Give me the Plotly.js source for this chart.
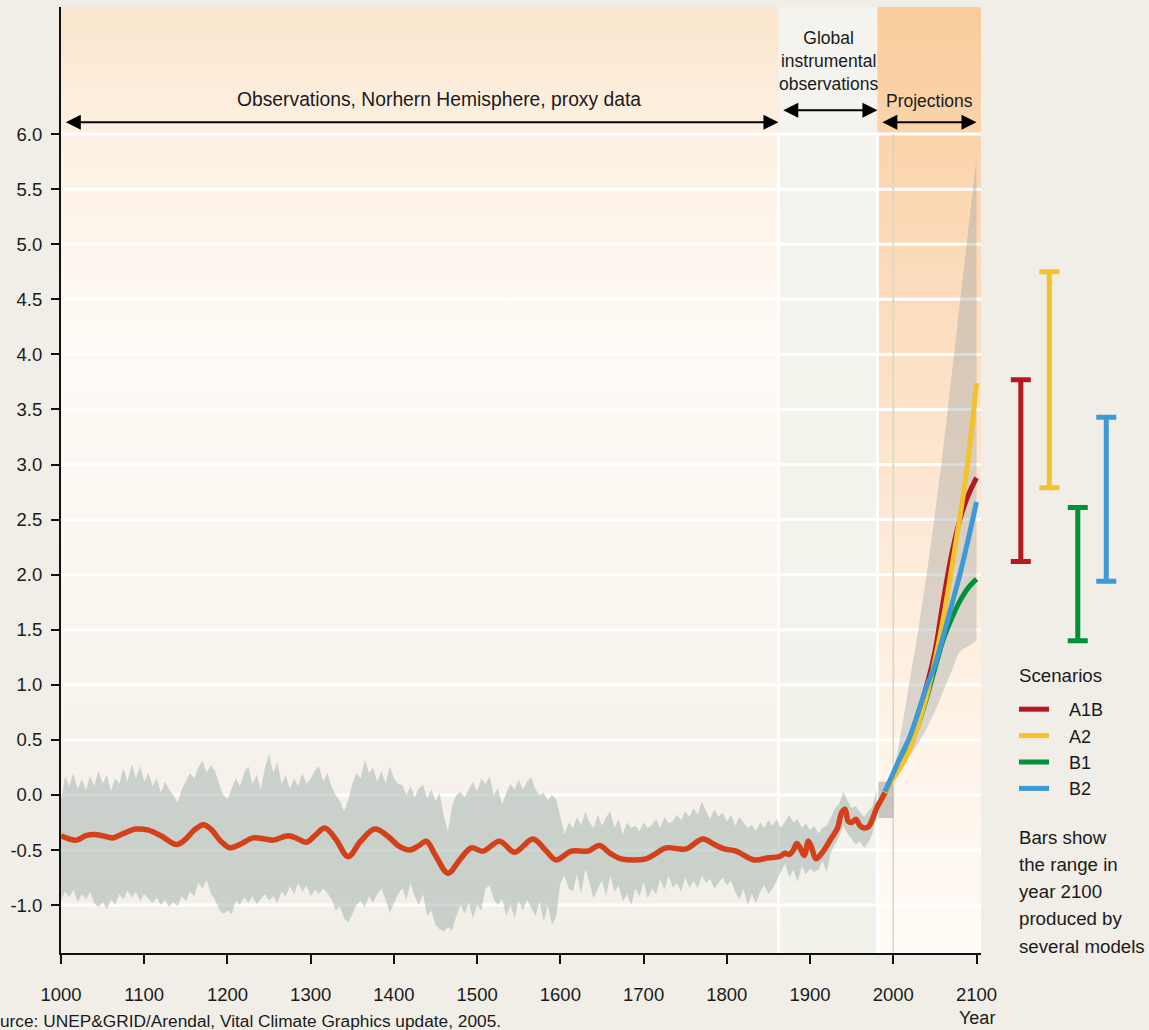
<!DOCTYPE html>
<html>
<head>
<meta charset="utf-8">
<script src="https://cdn.plot.ly/plotly-3.0.1.min.js"></script>
<style>
  html, body { margin: 0; padding: 0; background: #f0eee7; }
  #chart { width: 1149px; height: 1030px; }
</style>
</head>
<body>
<div id="chart"></div>
<script>
// ---------- DATA ----------
// Periods shown along the top
const periodNames = ['Observations, Norhern Hemisphere, proxy data', 'Global<br>instrumental<br>observations', 'Projections'];
const periodStart = [1000, 1862, 1981];
const periodEnd   = [1862, 1981, 2100];

// Proxy / instrumental uncertainty band (every 5 years, 1000-1980)
const bandStartYear = 1000;
const bandStep = 5;
const bandUpper = [
  -0.05, 0.17, 0.08, 0.2, 0.05, 0.15, 0.04, 0.17, 0.08, 0.22, 0.1, 0.18, 0.03, 0.15, 0.1, 0.24, 0.12, 0.28, 0.15, 0.26,
  0.12, 0.2, 0.08, 0.15, 0.02, 0.12, 0.05, 0.0, -0.07, 0.05, 0.12, 0.2, 0.15, 0.25, 0.31, 0.2, 0.27, 0.22, 0.1, 0.0,
  -0.04, 0.05, 0.15, 0.08, 0.2, 0.26, 0.1, 0.18, 0.05, 0.25, 0.37, 0.2, 0.3, 0.1, 0.18, 0.05, 0.15, 0.08, 0.2, 0.1,
  0.15, 0.22, 0.26, 0.12, 0.2, 0.08, 0.0, -0.05, -0.15, -0.05, 0.1, 0.2, 0.15, 0.32, 0.2, 0.25, 0.12, 0.22, 0.1, 0.26,
  0.15, 0.1, 0.09, 0.0, 0.08, -0.02, 0.06, 0.09, -0.03, 0.05, -0.06, 0.02, -0.2, -0.33, -0.1, 0.0, 0.03, -0.02, 0.05, 0.12,
  0.03, 0.15, 0.1, 0.17, 0.0, 0.06, -0.09, 0.02, 0.1, 0.05, 0.14, 0.05, 0.12, 0.16, 0.05, 0.0, 0.02, -0.05, 0.0, -0.04,
  -0.2, -0.36, -0.25, -0.3, -0.2, -0.28, -0.15, -0.25, -0.3, -0.18, -0.28, -0.2, -0.15, -0.3, -0.22, -0.36, -0.25, -0.3, -0.28, -0.33,
  -0.25, -0.3, -0.27, -0.22, -0.3, -0.2, -0.26, -0.24, -0.18, -0.23, -0.15, -0.2, -0.12, -0.18, -0.06, -0.15, -0.22, -0.13, -0.2, -0.16,
  -0.24, -0.18, -0.28, -0.2, -0.25, -0.3, -0.27, -0.33, -0.25, -0.3, -0.23, -0.28, -0.22, -0.3, -0.24, -0.18, -0.25, -0.22, -0.3, -0.26,
  -0.32, -0.28, -0.35, -0.3, -0.28, -0.2, -0.12, -0.08, 0.03, -0.05, -0.12, -0.1, -0.16, -0.2, -0.15, -0.1, 0.05
];
const bandLower = [
  -0.95, -0.88, -0.93, -0.86, -0.97, -0.9, -0.95, -0.88, -0.98, -1.02, -0.97, -1.04, -0.95, -1.0, -0.9, -0.95, -0.87, -0.93, -0.88, -0.96,
  -0.9, -0.94, -0.98, -0.93, -1.0, -0.95, -1.02, -0.97, -1.01, -0.92, -0.96, -0.88, -0.92, -0.8, -0.85, -0.77, -0.89, -0.95, -1.04, -1.08,
  -1.05, -1.08, -0.96, -1.0, -0.93, -0.98, -0.92, -0.99, -0.94, -0.9, -0.96, -0.92, -0.98, -0.88, -0.92, -0.83, -0.9, -0.8, -0.88, -0.82,
  -0.92, -0.86, -0.9, -0.85, -0.89, -0.95, -1.05, -1.01, -1.12, -1.16, -1.08, -1.0, -0.96, -1.02, -0.92, -0.98, -0.9, -0.85, -0.95, -1.07,
  -0.98, -0.9, -0.85, -0.95, -0.8, -0.92, -1.0, -0.9, -1.1, -1.05, -1.18, -1.22, -1.24, -1.2, -1.23, -1.1, -1.0, -1.08, -0.98, -1.12,
  -1.0, -1.05, -0.85, -0.82, -0.95, -1.0, -0.94, -1.1, -1.0, -1.12, -0.96, -1.05, -0.95, -1.02, -1.1, -0.97, -1.15, -1.0, -1.18, -1.1,
  -0.8, -0.73, -0.85, -0.88, -0.72, -0.9, -0.67, -0.8, -0.94, -0.85, -0.78, -0.92, -0.73, -0.88, -0.82, -0.97, -0.9, -1.0, -0.85, -0.92,
  -0.79, -0.94, -0.85, -0.9, -0.76, -0.86, -0.73, -0.84, -0.8, -0.88, -0.75, -0.84, -0.78, -0.85, -0.73, -0.8, -0.76, -0.85, -0.8, -0.75,
  -0.82, -0.78, -0.88, -0.95, -0.85, -1.0, -0.9, -0.98, -0.88, -0.82, -0.9, -0.85, -0.78, -0.7, -0.62, -0.75, -0.68, -0.79, -0.65, -0.72,
  -0.67, -0.7, -0.68, -0.6, -0.7, -0.52, -0.45, -0.38, -0.28, -0.35, -0.4, -0.45, -0.42, -0.48, -0.43, -0.35, -0.2
];

// Recent observational uncertainty box
const recentYears = [1982, 2000];
const recentHigh  = [0.12, 0.12];
const recentLow   = [-0.21, -0.21];

// Smoothed observed temperature (red line)
const obsYears = [1000,1010,1019,1030,1040,1050,1062,1075,1090,1105,1120,1139,1150,1160,1171,1180,1192,1203,1215,1231,1245,1255,1273,1285,1295,1305,1317,1330,1345,1360,1377,1392,1407,1419,1430,1439,1450,1465,1480,1493,1507,1527,1545,1567,1582,1595,1613,1633,1647,1660,1673,1703,1715,1727,1751,1771,1785,1797,1811,1833,1850,1863,1870,1875,1880,1884,1888,1893,1898,1902,1907,1915,1925,1933,1938,1942,1946,1950,1955,1960,1965,1970,1975,1980,1985,1990];
const obsTemp  = [-0.37,-0.40,-0.41,-0.37,-0.36,-0.37,-0.39,-0.35,-0.31,-0.32,-0.37,-0.45,-0.40,-0.32,-0.27,-0.31,-0.42,-0.48,-0.45,-0.39,-0.40,-0.41,-0.37,-0.40,-0.43,-0.37,-0.30,-0.40,-0.56,-0.42,-0.31,-0.37,-0.47,-0.50,-0.46,-0.42,-0.55,-0.71,-0.58,-0.48,-0.51,-0.42,-0.52,-0.40,-0.50,-0.59,-0.51,-0.51,-0.46,-0.53,-0.58,-0.58,-0.53,-0.48,-0.49,-0.40,-0.45,-0.49,-0.51,-0.59,-0.57,-0.56,-0.53,-0.54,-0.50,-0.44,-0.48,-0.55,-0.42,-0.48,-0.58,-0.52,-0.40,-0.30,-0.16,-0.13,-0.24,-0.25,-0.22,-0.28,-0.30,-0.29,-0.22,-0.12,-0.05,0.02];

// Projection envelope (all models, all scenarios)
const envYears = [1990, 2000, 2010, 2020, 2030, 2040, 2050, 2060, 2070, 2080, 2090, 2100];
const envHigh  = [0.02, 0.22, 0.6, 1.05, 1.5, 2.0, 2.55, 3.15, 3.8, 4.47, 5.12, 5.78];
const envLow   = [-0.02, 0.17, 0.27, 0.36, 0.47, 0.6, 0.76, 0.94, 1.12, 1.3, 1.35, 1.4];

// Scenario projections
const projYears = [1990, 2000, 2010, 2020, 2030, 2040, 2050, 2060, 2070, 2080, 2090, 2100];
const scenarios = ['A1B', 'A2', 'B1', 'B2'];
const projA1B = [0.02, 0.18, 0.34, 0.52, 0.74, 0.99, 1.3, 1.76, 2.18, 2.5, 2.72, 2.88];
const projA2  = [0.02, 0.15, 0.27, 0.42, 0.64, 0.9, 1.22, 1.6, 2.05, 2.52, 3.05, 3.74];
const projB1  = [0.02, 0.18, 0.32, 0.45, 0.64, 0.88, 1.15, 1.41, 1.6, 1.76, 1.88, 1.96];
const projB2  = [0.03, 0.2, 0.37, 0.53, 0.75, 0.98, 1.18, 1.44, 1.72, 2.0, 2.32, 2.66];

// Model range in year 2100 per scenario
const rangeLow  = [2.12, 2.79, 1.40, 1.94];
const rangeHigh = [3.77, 4.75, 2.61, 3.43];

// Axis ticks and texts
const yTickVals = [-1.0, -0.5, 0.0, 0.5, 1.0, 1.5, 2.0, 2.5, 3.0, 3.5, 4.0, 4.5, 5.0, 5.5, 6.0];
const yTickText = ['-1.0', '-0.5', '0.0', '0.5', '1.0', '1.5', '2.0', '2.5', '3.0', '3.5', '4.0', '4.5', '5.0', '5.5', '6.0'];
const legendTitle = 'Scenarios';
const noteLines = ['Bars show', 'the range in', 'year 2100', 'produced by', 'several models'];
const sourceText = 'urce: UNEP&GRID/Arendal, Vital Climate Graphics update, 2005.';

// ---------- STYLE ----------
const FONT = '"Liberation Sans", Arial, Helvetica, sans-serif';
const TXT = '#1a1a1a';
const X_MIN = 1000, X_MAX = 2105.4;
const Y_MIN = -1.435, Y_MAX = 7.154;
const L = 61, T = 7, PW = 1088, PH = 946;           // plot box in px
const px2paperX = px => (px - L) / PW;
const py2paperY = py => (T + PH - py) / PH;
const NBSP = '\u00a0\u00a0\u00a0';                    // gap between legend line and its label
const scenColors = { A1B: '#b5191f', A2: '#f4c22c', B1: '#00913a', B2: '#3e9ad6' };
const periodGradients = [
  [[0, '#f2efe7'], [0.2, '#f6f2eb'], [0.45, '#fbf8f2'], [0.65, '#fefaf5'], [0.87, '#fdf0e2'], [1, '#fbe5cd']],
  [[0, '#f2f1ea'], [1, '#f4f3ed']],
  [[0, '#fffbf6'], [0.2, '#fef4ea'], [0.45, '#fde9d6'], [0.7, '#fcdcbd'], [1, '#f9cd9c']]
];

// ---------- TRACES ----------
const traces = [];

// background period panels
periodStart.forEach((s, i) => {
  const e = periodEnd[i] === 2100 ? X_MAX : periodEnd[i];
  traces.push({
    x: [s, e, e, s, s], y: [Y_MIN, Y_MIN, Y_MAX, Y_MAX, Y_MIN],
    mode: 'lines', line: { width: 0, color: 'rgba(0,0,0,0)' },
    fill: 'toself',
    fillgradient: { type: 'vertical', colorscale: periodGradients[i], start: Y_MIN, stop: Y_MAX },
    hoverinfo: 'skip', showlegend: false
  });
});

// horizontal white grid lines
const gx = [], gy = [];
yTickVals.forEach(v => { gx.push(X_MIN, X_MAX, null); gy.push(v, v, null); });
traces.push({ x: gx, y: gy, mode: 'lines', line: { color: '#ffffff', width: 3 }, hoverinfo: 'skip', showlegend: false });

// vertical white separators between periods
const vx = [], vy = [];
[periodStart[1], periodStart[2]].forEach(v => { vx.push(v, v, null); vy.push(Y_MIN, 6.0, null); });
traces.push({ x: vx, y: vy, mode: 'lines', line: { color: '#ffffff', width: 3 }, hoverinfo: 'skip', showlegend: false });
// thin line at 2000
traces.push({ x: [2000, 2000], y: [Y_MIN, 6.0], mode: 'lines', line: { color: '#d2dbc8', width: 1.6 }, hoverinfo: 'skip', showlegend: false });

// uncertainty band
const bandYears = bandUpper.map((_, i) => bandStartYear + i * bandStep);
traces.push({ x: bandYears, y: bandLower, mode: 'lines', line: { width: 0, color: 'rgba(0,0,0,0)' }, hoverinfo: 'skip', showlegend: false });
traces.push({ x: bandYears, y: bandUpper, mode: 'lines', line: { width: 0, color: 'rgba(0,0,0,0)' }, fill: 'tonexty', fillcolor: 'rgba(160,176,171,0.5)', hoverinfo: 'skip', showlegend: false });

// recent box
traces.push({ x: recentYears, y: recentLow, mode: 'lines', line: { width: 0, color: 'rgba(0,0,0,0)' }, hoverinfo: 'skip', showlegend: false });
traces.push({ x: recentYears, y: recentHigh, mode: 'lines', line: { width: 0, color: 'rgba(0,0,0,0)' }, fill: 'tonexty', fillcolor: 'rgba(140,140,140,0.45)', hoverinfo: 'skip', showlegend: false });

// projection envelope
traces.push({ x: envYears, y: envLow, mode: 'lines', line: { width: 0, color: 'rgba(0,0,0,0)', shape: 'spline' }, hoverinfo: 'skip', showlegend: false });
traces.push({ x: envYears, y: envHigh, mode: 'lines', line: { width: 0, color: 'rgba(0,0,0,0)', shape: 'spline' }, fill: 'tonexty', fillcolor: 'rgba(158,163,163,0.38)', hoverinfo: 'skip', showlegend: false });

// observed line
traces.push({ x: obsYears, y: obsTemp, mode: 'lines', line: { color: '#d3401a', width: 5.5, shape: 'spline', smoothing: 1 }, hoverinfo: 'skip', showlegend: false });

// scenario lines (draw order: A1B, B1, A2, B2), legend order by rank
const projData = { A1B: projA1B, A2: projA2, B1: projB1, B2: projB2 };
['A1B', 'B1', 'A2', 'B2'].forEach(name => {
  traces.push({
    x: projYears, y: projData[name], name: NBSP + name, mode: 'lines',
    line: { color: scenColors[name], width: 5, shape: 'spline' },
    legendrank: scenarios.indexOf(name) + 1,
    hoverinfo: 'skip', showlegend: true
  });
});

// range bars in 2100
scenarios.forEach((name, i) => {
  traces.push({
    x: [name], y: [rangeLow[i]], xaxis: 'x2', yaxis: 'y', type: 'scatter', mode: 'markers',
    marker: { size: 1, opacity: 0 },
    error_y: { type: 'data', symmetric: false, array: [rangeHigh[i] - rangeLow[i]], arrayminus: [0],
               color: scenColors[name], thickness: 5, width: 10 },
    hoverinfo: 'skip', showlegend: false
  });
});

// ---------- ANNOTATIONS ----------
const annotations = [];
const arrowY = [6.108, 6.217, 6.108];
const labelX = [1454, 1922, 2043];
const labelY = [6.31, 6.662, 6.30];
const labelSize = [19.3, 17.5, 17.5];
periodStart.forEach((s, i) => {
  const e = periodEnd[i];
  annotations.push({
    xref: 'x', yref: 'y', axref: 'x', ayref: 'y',
    x: e, y: arrowY[i], ax: s + 4, ay: arrowY[i], text: '',
    showarrow: true, arrowhead: 2, startarrowhead: 2, arrowside: 'end+start',
    arrowsize: 1.5, startarrowsize: 1.5, arrowwidth: 2, arrowcolor: '#000', standoff: 0, startstandoff: 0
  });
  annotations.push({
    xref: 'x', yref: 'y', x: labelX[i], y: labelY[i], text: periodNames[i],
    showarrow: false, xanchor: 'center', yanchor: 'middle', align: 'center',
    font: { family: FONT, size: labelSize[i], color: TXT }
  });
});
annotations.push({
  xref: 'paper', yref: 'paper', x: px2paperX(1017), y: py2paperY(675), text: legendTitle,
  showarrow: false, xanchor: 'left', yanchor: 'middle', font: { family: FONT, size: 18.7, color: TXT }
});
noteLines.forEach((t, i) => {
  annotations.push({
    xref: 'paper', yref: 'paper', x: px2paperX(1017), y: py2paperY(837 + i * 27.3),
    text: t, showarrow: false, xanchor: 'left', yanchor: 'middle',
    font: { family: FONT, size: 18.7, color: TXT }
  });
});
annotations.push({
  xref: 'x', yref: 'paper', x: 2100, y: py2paperY(1018), text: 'Year', showarrow: false,
  xanchor: 'center', yanchor: 'middle', font: { family: FONT, size: 18, color: TXT }
});
annotations.push({
  xref: 'paper', yref: 'paper', x: px2paperX(-2), y: py2paperY(1021), text: sourceText, showarrow: false,
  xanchor: 'left', yanchor: 'middle', font: { family: FONT, size: 17.3, color: TXT }
});

// ---------- LAYOUT ----------
const layout = {
  width: 1149, height: 1030,
  margin: { l: L, r: 1149 - L - PW, t: T, b: 1030 - T - PH, pad: 0 },
  paper_bgcolor: '#f0eee7', plot_bgcolor: 'rgba(0,0,0,0)',
  font: { family: FONT, size: 18, color: TXT },
  showlegend: true,
  legend: {
    x: px2paperX(1014), y: py2paperY(691), xanchor: 'left', yanchor: 'top',
    bgcolor: 'rgba(0,0,0,0)', borderwidth: 0, itemwidth: 30,
    font: { family: FONT, size: 18, color: TXT },
    traceorder: 'normal', itemclick: false, itemdoubleclick: false
  },
  xaxis: {
    domain: [0, 920 / PW], range: [X_MIN, X_MAX],
    tick0: 1000, dtick: 100, ticks: 'outside', ticklen: 9, tickwidth: 2, tickcolor: '#111',
    showline: true, linecolor: '#111', linewidth: 2, showgrid: false, zeroline: false,
    tickfont: { family: FONT, size: 18.5, color: TXT }, ticklabelstandoff: 15, fixedrange: true
  },
  xaxis2: {
    domain: [0.856, 0.9869], range: [-1, 4], type: 'category', anchor: 'y',
    visible: false, showgrid: false, zeroline: false, fixedrange: true
  },
  yaxis: {
    range: [Y_MIN, Y_MAX], tickvals: yTickVals, ticktext: yTickText,
    ticks: 'outside', ticklen: 8, tickwidth: 2, tickcolor: '#111',
    showline: true, linecolor: '#111', linewidth: 2, showgrid: false, zeroline: false,
    tickfont: { family: FONT, size: 18.5, color: TXT }, ticklabelstandoff: 5, fixedrange: true
  },
  annotations: annotations
};

Plotly.newPlot('chart', traces, layout, { displayModeBar: false, staticPlot: true });
</script>
</body>
</html>
